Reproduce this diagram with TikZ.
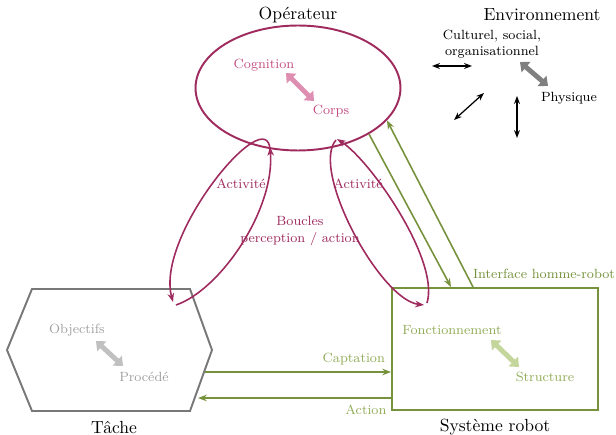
\documentclass[tikz,border=0pt]{standalone}
\usetikzlibrary{arrows.meta,shapes.geometric}

\definecolor{opcol}{RGB}{158,42,94}
\definecolor{oplight}{RGB}{196,78,130}
\definecolor{oparrow}{RGB}{222,142,176}
\definecolor{robcol}{RGB}{118,146,60}
\definecolor{roblight}{RGB}{145,172,88}
\definecolor{robarrow}{RGB}{196,214,155}
\definecolor{tachecol}{RGB}{120,120,120}
\definecolor{tachelight}{RGB}{160,160,160}
\definecolor{tachearrow}{RGB}{192,192,192}
\definecolor{envarrow}{RGB}{128,128,128}

\begin{document}
\begin{tikzpicture}[x=0.02cm,y=-0.02cm,
  title/.style={font=\normalsize},
  lbl/.style={font=\fontsize{7.6}{9.4}\selectfont},
  fat/.style={line width=2.8pt,{Triangle[width=7.5pt,length=4.5pt]}-{Triangle[width=7.5pt,length=4.5pt]}},
  envarr/.style={line width=0.7pt,{Stealth[length=4.5pt]}-{Stealth[length=4.5pt]}},
  loop/.style={opcol,line width=0.9pt,-{Stealth[length=5pt]}},
  link/.style={robcol,line width=0.9pt,-{Stealth[length=5pt]}}]
\useasboundingbox (0,0) rectangle (616,435);

% operateur
\node[ellipse,draw=opcol,line width=1.1pt,minimum width=4.1cm,minimum height=2.5cm,inner sep=0pt] (op) at (298,88) {};
\node[title] (optitle) at (298,15) {Opérateur};
\node[lbl,text=oplight] (cogn) at (264,65) {Cognition};
\node[lbl,text=oplight] (corps) at (331,111) {Corps};
\draw[fat,oparrow] ([shift={(22,8)}]cogn.center) -- ([shift={(-17,-10)}]corps.center);

% environnement
\node[title] (envtitle) at (542,15) {Environnement};
\node[lbl,align=center] (cult) at (492,44) {Culturel, social,\\organisationnel};
\node[lbl] (phys) at (569,98) {Physique};
\draw[fat,envarrow] ([shift={(28,18)}]cult.center) -- ([shift={(-21,-12)}]phys.center);
\draw[envarr] (432,66) -- (472,66);
\draw[envarr] (454,120) -- (484,93);
\draw[envarr] (517,96) -- (517,138);

% tache
\draw[tachecol,line width=1.1pt] (32,289) -- (190,289) -- (212,350) -- (190,411) -- (32,411) -- (7,350) -- cycle;
\node[title] (tache) at (114,428) {Tâche};
\node[lbl,text=tachelight] (obj) at (77,330) {Objectifs};
\node[lbl,text=tachelight] (proc) at (144,377) {Procédé};
\draw[fat,tachearrow] ([shift={(19,11)}]obj.center) -- ([shift={(-21,-11)}]proc.center);

% systeme robot
\node[draw=robcol,line width=1.1pt,minimum width=4.12cm,minimum height=2.44cm,inner sep=0pt] (rob) at (495,349) {};
\node[title] (robtitle) at (495,427) {Système robot};
\node[lbl,text=roblight] (fonc) at (452,330) {Fonctionnement};
\node[lbl,text=roblight] (struct) at (545,377) {Structure};
\draw[fat,robarrow] ([shift={(39,10)}]fonc.center) -- ([shift={(-26,-10)}]struct.center);

% boucles
\draw[loop] (176,305) .. controls (220,290) and (275,210) .. (270,147);
\draw[loop] (270,150) .. controls (268,100) and (155,235) .. (173,302);
\draw[loop] (336,140) .. controls (310,170) and (380,300) .. (424,305);
\draw[loop] (427,303) .. controls (440,260) and (370,160) .. (337,139);
\node[lbl,text=opcol] (act1) at (241,184) {Activité};
\node[lbl,text=opcol] (act2) at (358,184) {Activité};
\node[lbl,text=opcol,align=center] (boucles) at (300,231) {Boucles\\perception / action};

% interface
\draw[link] (op.-33) -- ([xshift=1.2cm]rob.north west);
\draw[link] ([xshift=1.64cm]rob.north west) -- (op.-20.6);
\node[lbl,text=robcol] (ihr) at (544,274) {Interface homme-robot};
\coordinate (capt) at (205,372);
\coordinate (actn) at (198,398);
\draw[link] (capt) -- (capt -| rob.west) node[pos=0.8,above,text=roblight,lbl] {Captation};
\draw[link] (actn -| rob.west) -- (actn) node[pos=0.13,below,text=roblight,lbl] {Action};
\end{tikzpicture}
\end{document}
